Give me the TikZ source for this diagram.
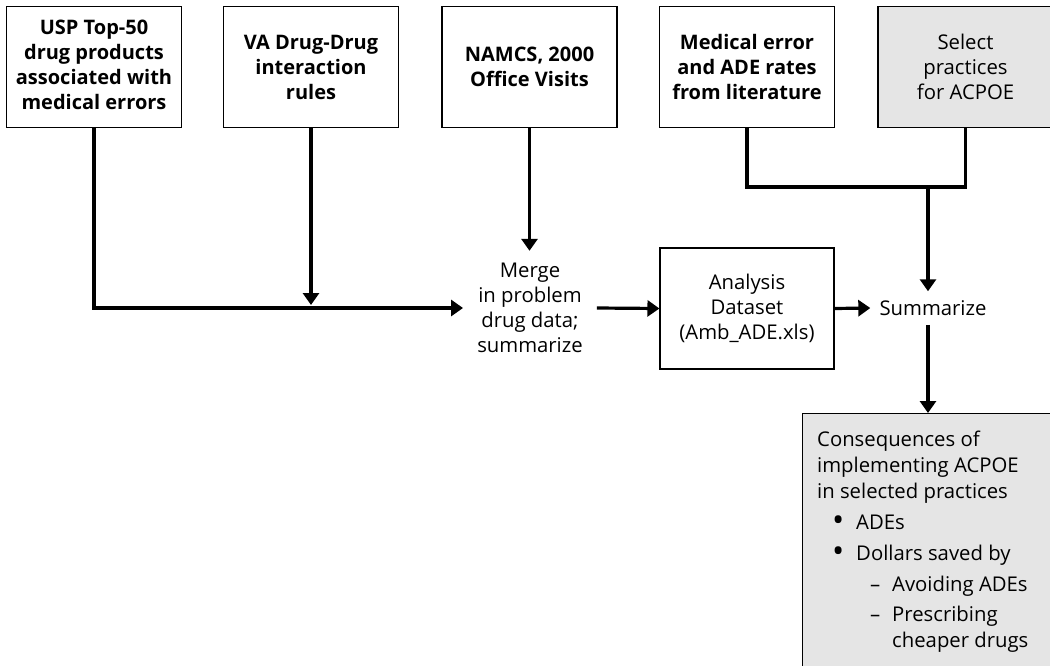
\documentclass[tikz,border=0pt]{standalone}
\usepackage{fontspec}
\usepackage{graphicx}
\setmainfont{Open Sans}
\usetikzlibrary{arrows.meta}
\definecolor{boxgray}{RGB}{229,229,229}
\newcommand{\bigbul}{\raisebox{-1.5pt}{\scalebox{1.6}{\textbullet}}}
\begin{document}
\begin{tikzpicture}[x=1pt,y=-1pt,
  txt/.style={font=\fontsize{20.3}{25}\selectfont},
  srcbox/.style={draw=black,line width=1.1pt,minimum width=175pt,minimum height=121pt,
    inner sep=0pt,align=center,font=\fontsize{20}{25}\selectfont\bfseries},
  graybox/.style={srcbox,fill=boxgray,font=\fontsize{20.3}{25}\selectfont},
  anabox/.style={draw=black,line width=1.1pt,minimum width=174pt,minimum height=121pt,
    inner sep=0pt,align=center,txt},
  wire/.style={line width=3.2pt},
  conn/.style={wire,-{Triangle[width=16pt,length=12pt]}},
]
\useasboundingbox (0,0) rectangle (1050,665);
% source boxes
\node[srcbox,text depth=4pt] (usp) at (94,67) {USP Top-50\\drug products\\associated with\\medical errors};
\node[srcbox] (va) at (311,67) {VA Drug-Drug\\interaction\\rules};
\node[srcbox] (namcs) at (529.5,67) {NAMCS, 2000\\Office Visits};
\node[srcbox] (med) at (747,67) {Medical error\\and ADE rates\\from literature};
\node[graybox] (sel) at (965.5,67) {Select\\practices\\for ACPOE};
% middle row
\node[txt,align=center,inner xsep=14pt,minimum height=114pt,inner ysep=0pt] (merge) at (530,308)
  {Merge\\in problem\\drug data;\\summarize};
\node[anabox] (ana) at (747,308.5) {Analysis\\Dataset\\(Amb\_ADE.xls)};
\node[txt,inner sep=9pt] (sum) at (933,308) {Summarize};
\coordinate (j) at (928,187);
% consequences box
\node[draw=black,line width=1.1pt,fill=boxgray,anchor=north west,minimum width=270pt,
  minimum height=280pt,inner sep=0pt] (cons) at (802,413) {};
\node[anchor=north west,inner sep=0pt,align=left,font=\fontsize{20.3}{26}\selectfont] (constext) at (817,431)
  {Consequences of\\implementing ACPOE\\in selected practices\\[5pt]
   \hspace*{15pt}\makebox[24pt][l]{\bigbul}ADEs\\[5pt]
   \hspace*{15pt}\makebox[24pt][l]{\bigbul}Dollars saved by\\[5pt]
   \hspace*{53pt}\makebox[22pt][l]{–}Avoiding ADEs\\[4pt]
   \hspace*{53pt}\makebox[22pt][l]{–}Prescribing\\
   \hspace*{75pt}cheaper drugs};
% connectors
\draw[conn] (usp.south) |- (merge.west);
\draw[conn,shorten >=3pt] (va.south) -- (va.south |- merge.west);
\draw[conn] (namcs.south) -- (namcs.south |- merge.north);
\draw[conn] (merge.east) -- (ana.west);
\draw[conn] (ana.east) -- (sum.west);
\draw[wire] (med.south) |- (sel.south |- j) -- (sel.south);
\draw[conn] (j) -- (j |- sum.north);
\draw[conn] (sum.south -| j) -- (cons.north -| j);
\end{tikzpicture}
\end{document}
